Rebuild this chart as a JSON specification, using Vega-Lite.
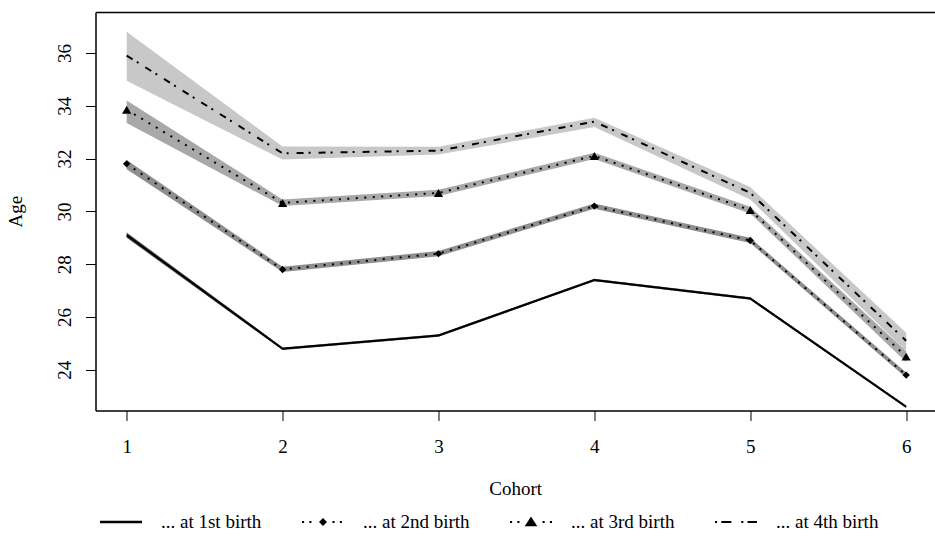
{
  "$schema": "https://vega.github.io/schema/vega-lite/v6.json",
  "width": 839.5,
  "height": 398.5,
  "autosize": "none",
  "padding": {"left": 95.5, "top": 12, "right": 0, "bottom": 125.5},
  "background": "white",
  "config": {
    "view": {"stroke": null},
    "font": "Liberation Serif",
    "axis": {
      "domainColor": "black", "domainWidth": 1.5, "tickColor": "black", "tickWidth": 1, "tickSize": 10,
      "labelFont": "Liberation Serif", "labelFontSize": 19, "labelColor": "black",
      "titleFont": "Liberation Serif", "titleFontSize": 19, "titleFontWeight": "normal", "titleColor": "black",
      "grid": false
    }
  },
  "data": {"values": [
    {"cohort": 1, "series": "... at 1st birth", "age": 29.1, "lo": 29.0, "hi": 29.2},
    {"cohort": 2, "series": "... at 1st birth", "age": 24.8, "lo": 24.75, "hi": 24.85},
    {"cohort": 3, "series": "... at 1st birth", "age": 25.3, "lo": 25.25, "hi": 25.35},
    {"cohort": 4, "series": "... at 1st birth", "age": 27.4, "lo": 27.35, "hi": 27.45},
    {"cohort": 5, "series": "... at 1st birth", "age": 26.7, "lo": 26.65, "hi": 26.75},
    {"cohort": 6, "series": "... at 1st birth", "age": 22.6, "lo": 22.55, "hi": 22.65},
    {"cohort": 1, "series": "... at 2nd birth", "age": 31.8, "lo": 31.6, "hi": 31.95},
    {"cohort": 2, "series": "... at 2nd birth", "age": 27.8, "lo": 27.7, "hi": 27.9},
    {"cohort": 3, "series": "... at 2nd birth", "age": 28.4, "lo": 28.3, "hi": 28.5},
    {"cohort": 4, "series": "... at 2nd birth", "age": 30.2, "lo": 30.1, "hi": 30.3},
    {"cohort": 5, "series": "... at 2nd birth", "age": 28.9, "lo": 28.8, "hi": 29.0},
    {"cohort": 6, "series": "... at 2nd birth", "age": 23.8, "lo": 23.7, "hi": 23.9},
    {"cohort": 1, "series": "... at 3rd birth", "age": 33.85, "lo": 33.35, "hi": 34.2},
    {"cohort": 2, "series": "... at 3rd birth", "age": 30.32, "lo": 30.2, "hi": 30.45},
    {"cohort": 3, "series": "... at 3rd birth", "age": 30.7, "lo": 30.58, "hi": 30.82},
    {"cohort": 4, "series": "... at 3rd birth", "age": 32.1, "lo": 31.98, "hi": 32.22},
    {"cohort": 5, "series": "... at 3rd birth", "age": 30.05, "lo": 29.92, "hi": 30.18},
    {"cohort": 6, "series": "... at 3rd birth", "age": 24.5, "lo": 24.3, "hi": 24.7},
    {"cohort": 1, "series": "... at 4th birth", "age": 35.9, "lo": 34.95, "hi": 36.8},
    {"cohort": 2, "series": "... at 4th birth", "age": 32.2, "lo": 31.96, "hi": 32.46},
    {"cohort": 3, "series": "... at 4th birth", "age": 32.3, "lo": 32.15, "hi": 32.45},
    {"cohort": 4, "series": "... at 4th birth", "age": 33.4, "lo": 33.2, "hi": 33.55},
    {"cohort": 5, "series": "... at 4th birth", "age": 30.7, "lo": 30.45, "hi": 30.92},
    {"cohort": 6, "series": "... at 4th birth", "age": 25.1, "lo": 24.7, "hi": 25.4}
  ]},
  "layer": [
    {
      "mark": {"type": "area", "opacity": 1},
      "encoding": {
        "x": {"field": "cohort", "type": "quantitative", "scale": {"domain": [0.8, 6.185], "nice": false, "zero": false},
              "axis": {"orient": "bottom", "values": [1, 2, 3, 4, 5, 6], "format": "d", "labelPadding": 17, "titlePadding": 23, "labelFlush": false,
                       "labelFont": "Liberation Serif", "labelFontSize": 19, "titleFont": "Liberation Serif", "titleFontSize": 19, "titleFontWeight": "normal"}, "title": "Cohort"},
        "y": {"field": "lo", "type": "quantitative", "stack": null, "scale": {"domain": [22.46, 37.55], "nice": false, "zero": false},
              "axis": {"values": [24, 26, 28, 30, 32, 34, 36], "labelAngle": -90, "labelAlign": "center", "labelBaseline": "alphabetic", "labelPadding": 15, "titlePadding": 34, "titleBaseline": "alphabetic", "labelFlush": false,
                       "labelFont": "Liberation Serif", "labelFontSize": 19, "titleFont": "Liberation Serif", "titleFontSize": 19, "titleFontWeight": "normal"}, "title": "Age"},
        "y2": {"field": "hi"},
        "fill": {"field": "series", "type": "nominal", "legend": null,
                 "scale": {"range": ["#555555", "#8e8e8e", "#a8a8a8", "#c8c8c8"]}}
      }
    },
    {
      "mark": {"type": "line", "color": "black", "strokeWidth": 2, "strokeCap": "butt"},
      "encoding": {
        "x": {"field": "cohort", "type": "quantitative", "axis": {"orient": "top", "labels": false, "ticks": false, "title": null, "domain": true}},
        "y": {"field": "age", "type": "quantitative", "title": "Age"},
        "strokeDash": {"field": "series", "type": "nominal", "legend": null,
                       "scale": {"range": [[1, 0], [2, 6.5], [2, 6.5], [7, 5, 2, 8]]}}
      }
    },
    {
      "transform": [{"filter": "datum.series === '... at 2nd birth'"}],
      "mark": {"type": "point", "shape": "diamond", "filled": true, "color": "black", "opacity": 1, "size": 55},
      "encoding": {
        "x": {"field": "cohort", "type": "quantitative", "axis": null},
        "y": {"field": "age", "type": "quantitative", "title": "Age"}
      }
    },
    {
      "transform": [{"filter": "datum.series === '... at 3rd birth'"}],
      "mark": {"type": "point", "shape": "triangle-up", "filled": true, "color": "black", "opacity": 1, "size": 85},
      "encoding": {
        "x": {"field": "cohort", "type": "quantitative", "axis": null},
        "y": {"field": "age", "type": "quantitative", "title": "Age"}
      }
    },
    {
      "transform": [{"filter": "datum.cohort > 100"}],
      "mark": {"type": "point", "filled": true, "color": "black", "opacity": 1, "strokeWidth": 0},
      "encoding": {
        "x": {"field": "cohort", "type": "quantitative", "axis": null},
        "y": {"field": "age", "type": "quantitative", "title": "Age"},
        "shape": {"field": "series", "type": "nominal",
                  "scale": {"domain": ["... at 1st birth", "... at 2nd birth", "... at 3rd birth", "... at 4th birth"],
                            "range": [
                              "M-1,-0.055H1V0.055H-1Z",
                              "M-1,-0.05h0.1v0.1h-0.1Z M-0.65,-0.05h0.1v0.1h-0.1Z M0,-0.19L0.19,0L0,0.19L-0.19,0Z M0.45,-0.05h0.1v0.1h-0.1Z M0.8,-0.05h0.1v0.1h-0.1Z",
                              "M-1,-0.05h0.1v0.1h-0.1Z M-0.65,-0.05h0.1v0.1h-0.1Z M0,-0.26L0.3,0.2L-0.3,0.2Z M0.55,-0.05h0.1v0.1h-0.1Z M0.9,-0.05h0.1v0.1h-0.1Z",
                              "M-1,-0.05h0.1v0.1h-0.1Z M-0.7,-0.05H-0.22v0.1H-0.7Z M0.25,-0.05h0.1v0.1h-0.1Z M0.55,-0.05H1v0.1H0.55Z"
                            ]},
                  "legend": {"orient": "none", "legendX": 4.5, "legendY": 489, "direction": "horizontal", "columns": 4, "title": null,
                             "labelFont": "Liberation Serif", "labelFontSize": 19, "labelColor": "black", "labelLimit": 400,
                             "symbolSize": 1764, "symbolFillColor": "black", "symbolStrokeColor": "black", "symbolStrokeWidth": 0, "symbolOpacity": 1,
                             "labelOffset": 19, "columnPadding": 40}}
      }
    }
  ],
  "resolve": {"axis": {"x": "independent"}}
}
